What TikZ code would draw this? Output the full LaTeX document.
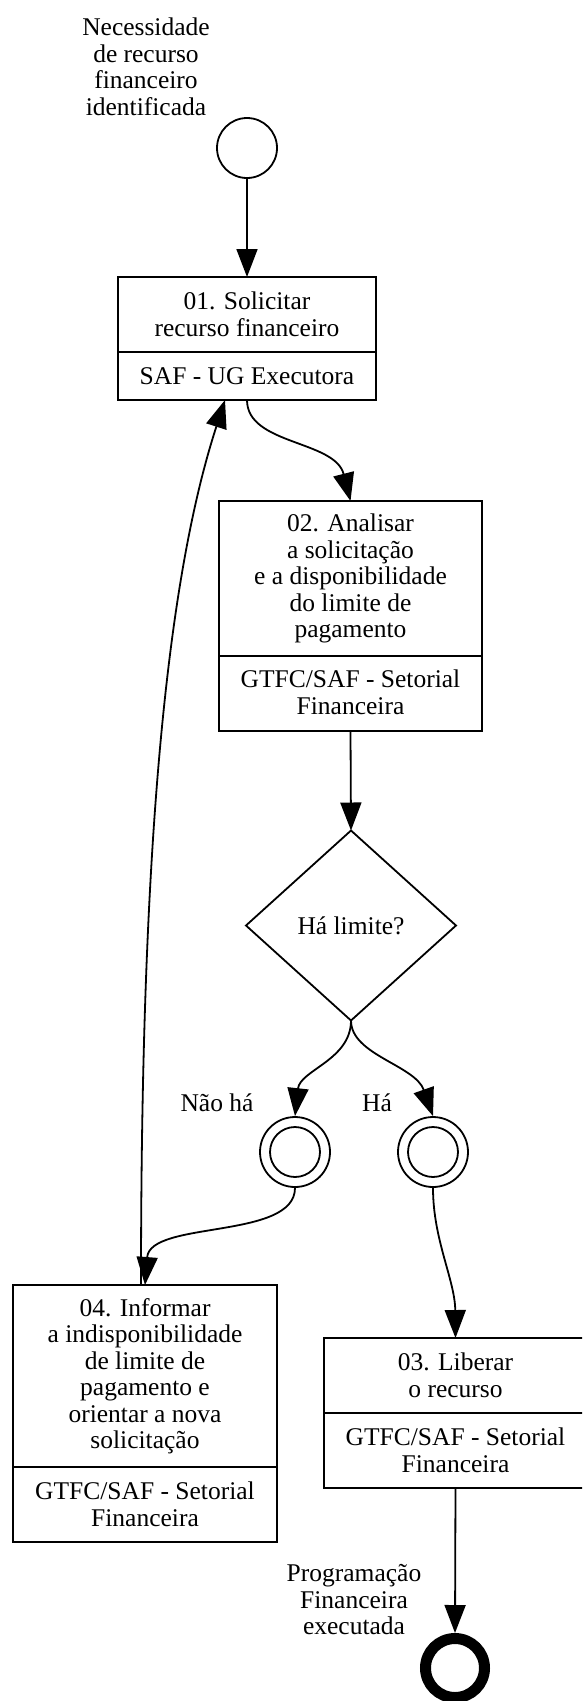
\documentclass[tikz,border=0pt]{standalone}
\usepackage{fontspec}
\setmainfont{Liberation Serif}
\usetikzlibrary{arrows.meta,shapes.geometric}
\newcommand{\dfont}{\fontsize{25.5pt}{26.5pt}\selectfont}
\tikzset{
  box/.style={draw, line width=2pt, inner sep=0pt, outer sep=0pt},
  divider/.style={line width=2pt},
  txt/.style={align=center, inner sep=0pt, font=\dfont},
  flow/.style={line width=1.8pt, -{Triangle[length=28pt,width=21pt]}},
  evstart/.style={circle, draw, line width=1.8pt, minimum size=60pt, inner sep=0pt},
  evmid/.style={circle, draw, line width=1.8pt, minimum size=70pt, inner sep=0pt},
  evend/.style={circle, draw, line width=11pt, minimum size=59pt, inner sep=0pt},
  gate/.style={diamond, draw, line width=1.8pt, minimum width=210pt, minimum height=190pt, inner sep=0pt, outer sep=0pt, font=\dfont},
}
\begin{document}
\begin{tikzpicture}[x=1pt,y=1pt]
\useasboundingbox (0,0) rectangle (582,-1701);
\clip (0,0) rectangle (582,-1701);

% start event
\node[evstart] (start) at (247,-148) {};
\node[txt] (startlbl) at (146,-67) {Necessidade\\de recurso\\financeiro\\identificada};

% 01
\node[box, minimum width=258pt, minimum height=123pt] (b1) at (247,-338.5) {};
\draw[divider] (118,-352) -- (376,-352);
\node[txt] (b1a) at (247,-314.5) {01. Solicitar\\recurso financeiro};
\node[txt] (b1b) at (247,-376) {SAF - UG Executora};

% 02
\node[box, minimum width=263pt, minimum height=230pt] (b2) at (350.5,-616) {};
\draw[divider] (219,-656) -- (482,-656);
\node[txt] (b2a) at (350.5,-578.5) {02. Analisar\\a solicitação\\e a disponibilidade\\do limite de\\pagamento};
\node[txt] (b2b) at (350.5,-692.5) {GTFC/SAF - Setorial\\Financeira};

% gateway
\node[gate] (dia) at (351,-925.5) {Há limite?};

% intermediate events
\node[evmid] (e1) at (295,-1152) {};
\draw[line width=1.8pt] (e1.center) circle (25pt);
\node[evmid] (e2) at (433,-1152) {};
\draw[line width=1.8pt] (e2.center) circle (25pt);
\node[txt] (l1) at (217,-1103) {Não há};
\node[txt] (l2) at (377,-1103) {Há};

% 04
\node[box, minimum width=264pt, minimum height=257pt] (b4) at (145,-1413.5) {};
\draw[divider] (13,-1467) -- (277,-1467);
\node[txt] (b4a) at (145,-1376) {04. Informar\\a indisponibilidade\\de limite de\\pagamento e\\orientar a nova\\solicitação};
\node[txt] (b4b) at (145,-1504.5) {GTFC/SAF - Setorial\\Financeira};

% 03
\node[box, minimum width=263pt, minimum height=150pt] (b3) at (455.5,-1413) {};
\draw[divider] (324,-1413) -- (587,-1413);
\node[txt] (b3a) at (455.5,-1375.5) {03. Liberar\\o recurso};
\node[txt] (b3b) at (455.5,-1450.5) {GTFC/SAF - Setorial\\Financeira};

% end event
\node[evend] (end) at (455,-1668) {};
\node[txt] (endlbl) at (354,-1600) {Programação\\Financeira\\executada};

% connectors
\draw[flow] (start.south) -- (b1.north);
\draw[flow] (b1.south) .. controls (247,-445) and (335,-440) .. (b2.north);
\draw[flow] (b2.south) -- (dia.north);
\draw[flow] (dia.south) .. controls (351,-1060) and (300,-1070) .. (e1.north);
\draw[flow] (dia.south) .. controls (351,-1055) and (415,-1065) .. (e2.north);
\draw[flow] (e1.south) .. controls (295,-1240) and (150,-1220) .. (b4.north);
\draw[flow] (e2.south) .. controls (433,-1240) and (455,-1280) .. (b3.north);
\draw[flow] (b3.south) -- (end.north);
\draw[flow] ([xshift=-4pt]b4.north) .. controls (141,-900) and (160,-600) .. ([xshift=-22pt]b1.south);
\end{tikzpicture}
\end{document}
